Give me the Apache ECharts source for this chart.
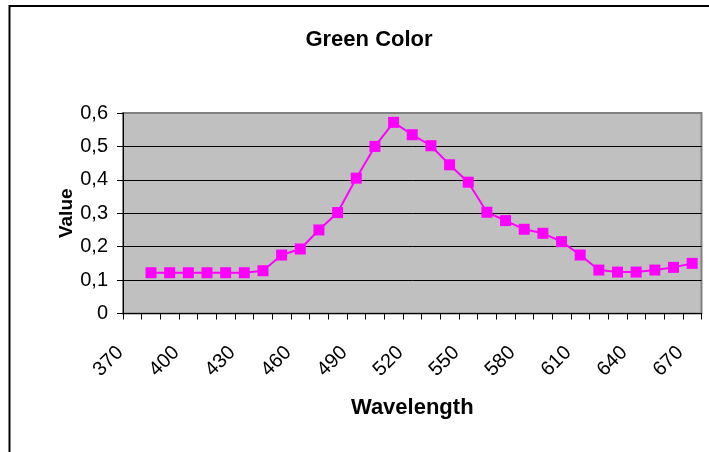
<!DOCTYPE html>
<html>
<head>
<meta charset="utf-8">
<script src="https://cdn.jsdelivr.net/npm/echarts@6/dist/echarts.min.js"></script>
<style>
html,body{margin:0;padding:0;background:#fff;}
#c{width:709px;height:452px;}
</style>
</head>
<body>
<div id="c"></div>
<script>
var wavelengths = ['370','380','390','400','410','420','430','440','450','460','470','480','490','500','510','520','530','540','550','560','570','580','590','600','610','620','630','640','650','660','670'];
var greenValues = [null,0.122,0.122,0.122,0.122,0.122,0.122,0.128,0.175,0.193,0.25,0.302,0.405,0.5,0.572,0.535,0.502,0.445,0.393,0.303,0.278,0.252,0.24,0.215,0.175,0.13,0.124,0.124,0.13,0.138,0.15];
var yTicks = [0,0.1,0.2,0.3,0.4,0.5,0.6];

var chart = echarts.init(document.getElementById('c'), null, {renderer:'canvas'});
var FONT = 'Liberation Sans, Arial, sans-serif';
chart.setOption({
  animation:false,
  backgroundColor:'#ffffff',
  title:{
    text:'Green Color',
    left:'364', top:24,
    textAlign:'center',
    textStyle:{fontFamily:FONT,fontSize:22,fontWeight:'bold',color:'#000'}
  },
  graphic:[{
    type:'rect', silent:true, z:-1,
    shape:{x:9.5,y:6,width:760,height:500},
    style:{fill:'none',stroke:'#000',lineWidth:2}
  }],
  grid:{
    left:123, top:113, right:7.5, bottom:138.5,
    show:true, backgroundColor:'#C0C0C0', borderColor:'#808080', borderWidth:2
  },
  xAxis:{
    type:'category',
    data:wavelengths,
    boundaryGap:true,
    name:'Wavelength',
    nameLocation:'middle',
    nameGap:83,
    nameMoveOverlap:false,
    nameTextStyle:{fontFamily:FONT,fontSize:22,fontWeight:'bold',color:'#000'},
    axisLine:{lineStyle:{color:'#000',width:1}},
    axisTick:{show:true,interval:0,length:6,lineStyle:{color:'#000'}},
    axisLabel:{interval:2,rotate:45,fontFamily:FONT,fontSize:20,color:'#000',margin:24,padding:[0,17,0,0]},
    splitLine:{show:false}
  },
  yAxis:{
    type:'value',
    min:0,max:0.6,interval:0.1,
    name:'Value',
    nameLocation:'middle',
    nameGap:47,
    nameMoveOverlap:false,
    nameTextStyle:{fontFamily:FONT,fontSize:19,fontWeight:'bold',color:'#000'},
    axisLine:{show:true,lineStyle:{color:'#000',width:1}},
    axisTick:{show:true,length:6,lineStyle:{color:'#000'}},
    axisLabel:{fontFamily:FONT,fontSize:20,color:'#000',margin:15,
      formatter:function(v){return String(Math.round(v*10)/10).replace('.',',');}},
    splitLine:{show:true,lineStyle:{color:['#000','#000','#000','#000','#000','#000','#808080'],width:1}}
  },
  series:[{
    type:'line',
    data:greenValues,
    connectNulls:false,
    symbol:'rect',
    symbolSize:11,
    itemStyle:{color:'#FF00FF'},
    lineStyle:{color:'#FF00FF',width:2}
  }]
});
</script>
</body>
</html>
